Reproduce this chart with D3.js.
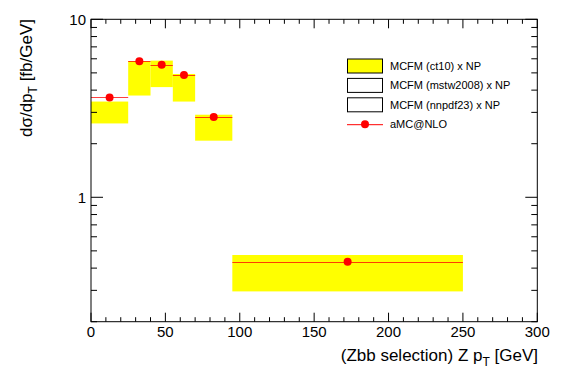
<!DOCTYPE html>
<html>
<head>
<meta charset="utf-8">
<script src="https://cdn.jsdelivr.net/npm/d3@7"></script>
<style>
  body { margin: 0; background: white; }
  text { font-family: "Liberation Sans", Arial, sans-serif; }
</style>
</head>
<body>
<div id="chart"></div>
<script>
// bin edges in Z pT (GeV)
const binEdges = [0, 25, 40, 55, 70, 95, 250];
// MCFM (ct10) x NP band, low / high edge per bin
const ct10Low = [2.60, 3.73, 4.16, 3.45, 2.08, 0.296];
const ct10High = [3.45, 5.83, 5.86, 4.93, 2.91, 0.474];
// aMC@NLO central values per bin
const amcnlo = [3.64, 5.81, 5.56, 4.87, 2.83, 0.435];

const xTicks = [0, 50, 100, 150, 200, 250, 300];
const yLabels = [1, 10];
const legendLabels = ["MCFM (ct10) x NP", "MCFM (mstw2008) x NP", "MCFM (nnpdf23) x NP", "aMC@NLO"];

const W = 567, H = 384;
const frame = { left: 91, right: 537.3, top: 19.3, bottom: 321.7 };

const svg = d3.select("#chart")
    .append("svg")
    .attr("width", W)
    .attr("height", H);

// scales
const x = d3.scaleLinear().domain([0, 300]).range([frame.left, frame.right]);
const y = d3.scaleLog().domain([0.2, 10]).range([frame.bottom, frame.top]);

const bins = amcnlo.map((v, i) => ({
    lo: binEdges[i], hi: binEdges[i + 1],
    bandLo: ct10Low[i], bandHi: ct10High[i], val: v
}));

// yellow ct10 band
svg.selectAll(".band")
    .data(bins)
    .enter().append("rect")
    .attr("class", "band")
    .attr("x", d => x(d.lo))
    .attr("width", d => x(d.hi) - x(d.lo))
    .attr("y", d => y(d.bandHi))
    .attr("height", d => y(d.bandLo) - y(d.bandHi))
    .attr("fill", "#ffff00");

// aMC@NLO horizontal bars + markers
svg.selectAll(".hbar")
    .data(bins)
    .enter().append("line")
    .attr("x1", d => x(d.lo))
    .attr("x2", d => x(d.hi))
    .attr("y1", d => Math.round(y(d.val)) + 0.5)
    .attr("y2", d => Math.round(y(d.val)) + 0.5)
    .attr("stroke", "#ff0000")
    .attr("stroke-width", 1)
    .attr("opacity", 0.75);

svg.selectAll(".pt")
    .data(bins)
    .enter().append("circle")
    .attr("cx", d => x((d.lo + d.hi) / 2))
    .attr("cy", d => y(d.val))
    .attr("r", 4)
    .attr("fill", "red");

// frame
svg.append("rect")
    .attr("x", frame.left)
    .attr("y", frame.top)
    .attr("width", frame.right - frame.left)
    .attr("height", frame.bottom - frame.top)
    .attr("fill", "none")
    .attr("stroke", "black")
    .attr("stroke-width", 1);

// x ticks (bottom and top), major every 50, minor every 10
const xMinor = d3.range(0, 301, 10);
const axisG = svg.append("g").attr("stroke", "black").attr("stroke-width", 1);
xMinor.forEach(v => {
    const len = v % 50 === 0 ? 9 : 4.5;
    axisG.append("line").attr("x1", x(v)).attr("x2", x(v))
        .attr("y1", frame.bottom).attr("y2", frame.bottom - len);
    axisG.append("line").attr("x1", x(v)).attr("x2", x(v))
        .attr("y1", frame.top).attr("y2", frame.top + len);
});

// y ticks (left and right), log decades
const yMinor = [];
[0.1, 1].forEach(dec => d3.range(1, 10).forEach(k => {
    const v = k * dec;
    if (v >= 0.2 && v <= 10) yMinor.push(v);
}));
yMinor.push(10);
yMinor.forEach(v => {
    const len = yLabels.includes(v) ? 12 : 6;
    axisG.append("line").attr("x1", frame.left).attr("x2", frame.left + len)
        .attr("y1", y(v)).attr("y2", y(v));
    axisG.append("line").attr("x1", frame.right).attr("x2", frame.right - len)
        .attr("y1", y(v)).attr("y2", y(v));
});

// tick labels
svg.selectAll(".xlab")
    .data(xTicks)
    .enter().append("text")
    .attr("x", d => x(d))
    .attr("y", 337)
    .attr("text-anchor", "middle")
    .style("font-size", "15px")
    .text(d => d);

svg.selectAll(".ylab")
    .data(yLabels)
    .enter().append("text")
    .attr("x", 86)
    .attr("y", d => y(d) + 5.5)
    .attr("text-anchor", "end")
    .style("font-size", "15px")
    .text(d => d);

// axis titles
const xt = svg.append("text")
    .attr("x", 538)
    .attr("y", 361)
    .attr("text-anchor", "end")
    .style("font-size", "17px");
xt.append("tspan").text("(Zbb selection) Z p");
xt.append("tspan").attr("dy", 5).style("font-size", "12px").text("T");
xt.append("tspan").attr("dy", -5).text(" [GeV]");

const yt = svg.append("text")
    .attr("transform", `translate(32, 19) rotate(-90)`)
    .attr("text-anchor", "end")
    .style("font-size", "17px");
yt.append("tspan").text("dσ/dp");
yt.append("tspan").attr("dy", 5).style("font-size", "12px").text("T");
yt.append("tspan").attr("dy", -5).text(" [fb/GeV]");

// legend
const legend = svg.append("g").attr("transform", "translate(347, 66)");
const rowH = 19.4;
legendLabels.forEach((lab, i) => {
    const ry = i * rowH;
    if (i < 3) {
        legend.append("rect")
            .attr("x", 0.5).attr("y", ry - 7)
            .attr("width", 35).attr("height", 14)
            .attr("fill", i === 0 ? "#ffff00" : "white")
            .attr("stroke", "black").attr("stroke-width", 1);
    } else {
        legend.append("line")
            .attr("x1", 0).attr("x2", 36)
            .attr("y1", ry + 0.5).attr("y2", ry + 0.5)
            .attr("stroke", "#ff0000");
        legend.append("circle")
            .attr("cx", 18).attr("cy", ry).attr("r", 4).attr("fill", "red");
    }
    legend.append("text")
        .attr("x", 43).attr("y", ry + 4)
        .style("font-size", "11px")
        .text(lab);
});
</script>
</body>
</html>
